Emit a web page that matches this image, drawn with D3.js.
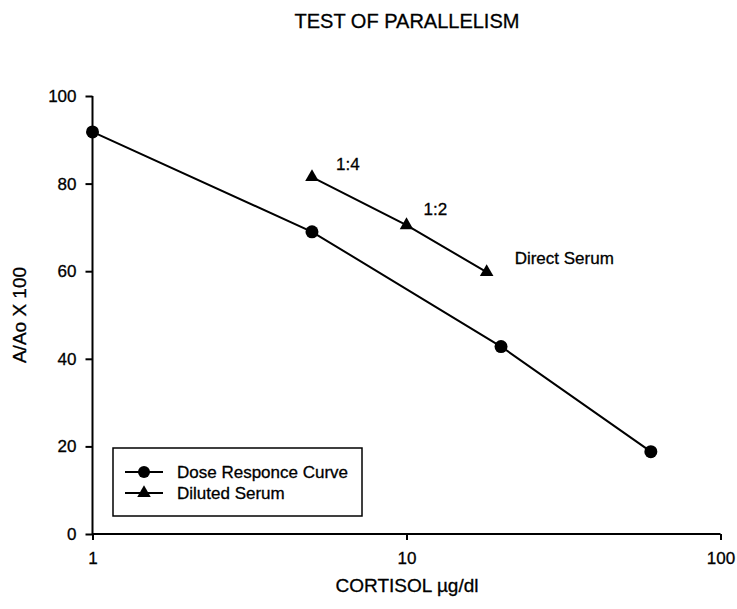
<!DOCTYPE html>
<html>
<head>
<meta charset="utf-8">
<script src="https://cdn.jsdelivr.net/npm/d3@7"></script>
<style>
  body { margin: 0; background: #fff; }
  svg text { font-family: "Liberation Sans", Arial, sans-serif; fill: #000; stroke: #000; stroke-width: 0.3px; }
</style>
</head>
<body>
<svg id="chart" width="737" height="609"></svg>
<script>
// data
var doseX = [1, 5, 20, 60];
var doseY = [91.8, 69, 42.8, 18.8];
var serumX = [5, 10, 18];
var serumY = [81.5, 70.5, 59.8];
var serumLabels = ["1:4", "1:2", "Direct Serum"];
var xTicks = [1, 10, 100];
var yTicks = [0, 20, 40, 60, 80, 100];
var legendNames = ["Dose Responce Curve", "Diluted Serum"];

var svg = d3.select("#chart");

var x = d3.scaleLog().domain([1, 100]).range([92.5, 720.5]);
var y = d3.scaleLinear().domain([0, 100]).range([534, 96]);

// title
svg.append("text")
    .attr("x", 407).attr("y", 28)
    .attr("text-anchor", "middle")
    .style("font-size", "20px")
    .text("TEST OF PARALLELISM");

// axes
var xAxis = d3.axisBottom(x).tickValues(xTicks).tickFormat(d3.format("d")).tickSize(6).tickPadding(12);
var yAxis = d3.axisLeft(y).tickValues(yTicks).tickSize(7).tickPadding(9);

var gx = svg.append("g").attr("transform", "translate(0," + y(0) + ")").call(xAxis);
var gy = svg.append("g").attr("transform", "translate(" + x(1) + ",0)").call(yAxis);

[gx, gy].forEach(function(g){
  g.select(".domain").attr("stroke", "#000").attr("stroke-width", 2);
  g.selectAll(".tick line").attr("stroke", "#000").attr("stroke-width", 2);
  g.selectAll(".tick text").style("font-size", "17px").style("font-family", "Liberation Sans, Arial, sans-serif").attr("fill", "#000");
});
gx.select(".domain").attr("d", "M" + x(1) + ",0H" + x(100));
gy.select(".domain").attr("d", "M0," + y(100) + "V" + y(0));

// axis titles
svg.append("text")
    .attr("x", 407).attr("y", 592)
    .attr("text-anchor", "middle")
    .style("font-size", "19px")
    .text("CORTISOL \u00b5g/dl");

svg.append("text")
    .attr("transform", "translate(26," + y(50) + ")rotate(-90)")
    .attr("text-anchor", "middle")
    .style("font-size", "19px")
    .text("A/Ao X 100");

// series
var dose = doseX.map(function(d, i){ return [d, doseY[i]]; });
var serum = serumX.map(function(d, i){ return [d, serumY[i]]; });

var line = d3.line().x(function(d){ return x(d[0]); }).y(function(d){ return y(d[1]); });

svg.append("path").datum(dose).attr("d", line)
    .attr("fill", "none").attr("stroke", "#000").attr("stroke-width", 2);
svg.append("path").datum(serum).attr("d", line)
    .attr("fill", "none").attr("stroke", "#000").attr("stroke-width", 2);

svg.selectAll(".dot").data(dose).enter().append("circle")
    .attr("class", "dot")
    .attr("cx", function(d){ return x(d[0]); })
    .attr("cy", function(d){ return y(d[1]); })
    .attr("r", 6.5).attr("fill", "#000");

var tri = d3.symbol().type(d3.symbolTriangle).size(80);
svg.selectAll(".tri").data(serum).enter().append("path")
    .attr("class", "tri")
    .attr("d", tri)
    .attr("transform", function(d){ return "translate(" + x(d[0]) + "," + y(d[1]) + ")"; })
    .attr("fill", "#000");

// dilution labels
var labelOffsets = [[24, -7], [17, -10], [28, -8]];
svg.selectAll(".dil").data(serum).enter().append("text")
    .attr("class", "dil")
    .attr("x", function(d, i){ return x(d[0]) + labelOffsets[i][0]; })
    .attr("y", function(d, i){ return y(d[1]) + labelOffsets[i][1]; })
    .style("font-size", "17px")
    .text(function(d, i){ return serumLabels[i]; });

// legend
var leg = svg.append("g");
leg.append("rect")
    .attr("x", 113).attr("y", 448).attr("width", 249).attr("height", 68)
    .attr("fill", "#fff").attr("stroke", "#000").attr("stroke-width", 1.5);

legendNames.forEach(function(name, i){
  var ly = 472 + i * 21;
  leg.append("line").attr("x1", 125).attr("x2", 163).attr("y1", ly).attr("y2", ly)
      .attr("stroke", "#000").attr("stroke-width", 2);
  if (i == 0) {
    leg.append("circle").attr("cx", 144).attr("cy", ly).attr("r", 6).attr("fill", "#000");
  } else {
    leg.append("path").attr("d", tri).attr("transform", "translate(144," + ly + ")").attr("fill", "#000");
  }
  leg.append("text").attr("x", 177).attr("y", ly + 6)
      .style("font-size", "17px")
      .text(name);
});
</script>
</body>
</html>
